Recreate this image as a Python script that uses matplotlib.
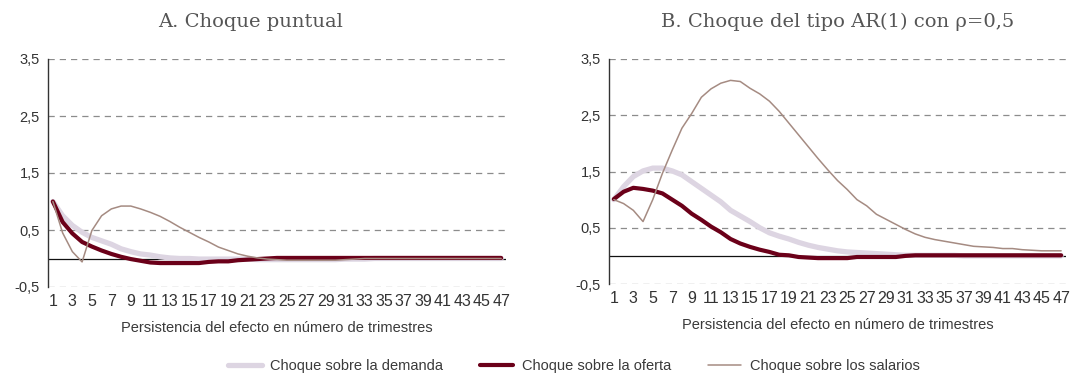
import matplotlib
matplotlib.use("Agg")
import matplotlib.pyplot as plt

quarters = list(range(1, 48))
tick_quarters = list(range(1, 48, 2))
y_ticks = [-0.5, 0.5, 1.5, 2.5, 3.5]

# A. Choque puntual
a_demand = [1.0, 0.75, 0.58, 0.46, 0.37, 0.31, 0.25, 0.17, 0.12, 0.08,
            0.06, 0.03, 0.01, 0.0, 0.0, -0.01, -0.01, -0.01, -0.01, -0.01,
            -0.01, -0.02, -0.02, -0.02, -0.02, -0.02, -0.02, -0.02, -0.02, -0.02,
            -0.01, -0.01, -0.01, 0.0, 0.0, 0.0, 0.0, 0.0, 0.0, 0.0,
            0.0, 0.0, 0.0, 0.0, 0.0, 0.0, 0.0]
a_supply = [1.0, 0.64, 0.44, 0.29, 0.21, 0.14, 0.08, 0.03, -0.01, -0.04,
            -0.07, -0.08, -0.08, -0.08, -0.08, -0.08, -0.06, -0.05, -0.05, -0.03,
            -0.02, -0.01, 0.0, 0.01, 0.01, 0.01, 0.01, 0.01, 0.01, 0.01,
            0.01, 0.01, 0.01, 0.01, 0.01, 0.01, 0.01, 0.01, 0.01, 0.01,
            0.01, 0.01, 0.01, 0.01, 0.01, 0.01, 0.01]
a_wages = [1.0, 0.45, 0.12, -0.06, 0.49, 0.75, 0.87, 0.92, 0.92, 0.87,
           0.81, 0.74, 0.65, 0.55, 0.46, 0.37, 0.29, 0.20, 0.14, 0.08,
           0.04, 0.01, -0.01, -0.02, -0.03, -0.03, -0.03, -0.03, -0.03, -0.03,
           -0.02, -0.01, 0.0, 0.0, 0.0, 0.0, 0.0, 0.0, 0.0, 0.0,
           0.0, 0.0, 0.0, 0.0, 0.0, 0.0, 0.0]

# B. Choque AR(1), rho = 0,5
b_demand = [1.0, 1.23, 1.41, 1.51, 1.56, 1.56, 1.51, 1.44, 1.32, 1.20,
            1.08, 0.96, 0.81, 0.71, 0.61, 0.50, 0.41, 0.35, 0.30, 0.24,
            0.19, 0.15, 0.12, 0.09, 0.07, 0.06, 0.05, 0.04, 0.03, 0.02,
            0.01, 0.01, 0.01, 0.01, 0.01, 0.01, 0.0, 0.0, 0.0, 0.0,
            0.0, 0.0, 0.0, 0.0, 0.0, 0.0, 0.0]
b_supply = [1.01, 1.14, 1.21, 1.19, 1.16, 1.11, 1.0, 0.89, 0.75, 0.64,
            0.52, 0.42, 0.30, 0.22, 0.16, 0.11, 0.07, 0.02, 0.01, -0.02,
            -0.03, -0.04, -0.04, -0.04, -0.04, -0.02, -0.02, -0.02, -0.02, -0.02,
            0.0, 0.01, 0.01, 0.01, 0.01, 0.01, 0.01, 0.01, 0.01, 0.01,
            0.01, 0.01, 0.01, 0.01, 0.01, 0.01, 0.01]
b_wages = [1.0, 0.93, 0.81, 0.61, 1.0, 1.47, 1.88, 2.27, 2.53, 2.82,
           2.97, 3.07, 3.12, 3.10, 2.98, 2.88, 2.75, 2.57, 2.36, 2.15,
           1.94, 1.73, 1.53, 1.34, 1.18, 1.00, 0.89, 0.74, 0.65, 0.56,
           0.47, 0.39, 0.33, 0.29, 0.26, 0.23, 0.20, 0.17, 0.16, 0.15,
           0.13, 0.13, 0.11, 0.10, 0.09, 0.09, 0.09]

labels = ["Choque sobre la demanda", "Choque sobre la oferta", "Choque sobre los salarios"]
colors = ["#ddd5e2", "#6b0019", "#a58b82"]
widths = [3.8, 3.0, 1.1]

plt.rcParams["font.family"] = ["Liberation Sans", "DejaVu Sans"]
plt.rcParams["font.size"] = 10.5

W, H = 1076, 374
fig = plt.figure(figsize=(W / 100, H / 100), dpi=100)


def panel(rect, series):
    left, top, right, bottom = rect
    ax = fig.add_axes([left / W, 1 - bottom / H, (right - left) / W, (bottom - top) / H])
    for yv in y_ticks:
        ax.axhline(yv, color="#8c8c8c", lw=0.9, dashes=(5, 4), zorder=1)
    ax.axhline(0, color="#111111", lw=0.9, zorder=2)
    lines = []
    for vals, c, w in zip(series, colors, widths):
        ln, = ax.plot(quarters, vals, color=c, lw=w, solid_capstyle="round",
                      solid_joinstyle="round", zorder=3)
        lines.append(ln)
    ax.set_xlim(0.5, 47.5)
    ax.set_ylim(-0.5, 3.5)
    ax.set_yticks(y_ticks)
    ax.set_yticklabels([f"{v:.1f}".replace(".", ",") for v in y_ticks])
    ax.set_xticks(tick_quarters)
    ax.set_xticklabels([str(q) for q in tick_quarters])
    ax.tick_params(axis="both", length=0, colors="#333333", labelsize=10.5)
    ax.tick_params(axis="x", pad=5, labelsize=11.5)
    ax.tick_params(axis="y", pad=6)
    for s in ["top", "right", "bottom"]:
        ax.spines[s].set_visible(False)
    ax.spines["left"].set_color("#333333")
    ax.spines["left"].set_linewidth(1.0)
    ax.set_xlabel("Persistencia del efecto en número de trimestres",
                  color="#3a3a3a", fontsize=10.5, labelpad=9)
    return lines


lines = panel((48, 59, 506, 287), [a_demand, a_supply, a_wages])
panel((609, 59, 1066, 284), [b_demand, b_supply, b_wages])

title_font = dict(family="DejaVu Serif", fontsize=14, color="#555555",
                  ha="center", va="center")
fig.text(251 / W, 1 - 22 / H, "A. Choque puntual", **title_font)
fig.text(838 / W, 1 - 22 / H, "B. Choque del tipo AR(1) con \u03c1=0,5", **title_font)

leg = fig.legend(lines, labels, loc="center", bbox_to_anchor=(574 / W, 1 - 366 / H),
                 ncol=3, frameon=False, handlelength=2.3, handletextpad=0.6,
                 columnspacing=2.5, fontsize=10.5)
for t in leg.get_texts():
    t.set_color("#3a3a3a")

fig.savefig("out.png", dpi=100)
